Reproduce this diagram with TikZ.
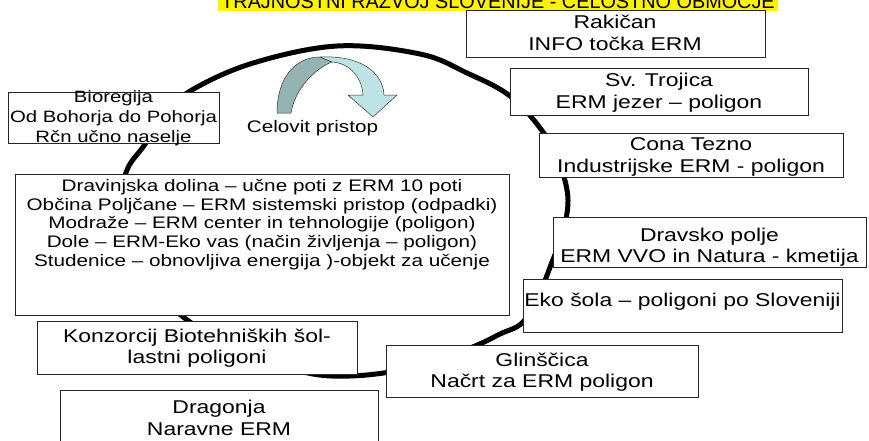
\documentclass[tikz,border=0pt]{standalone}
\usepackage{fontspec}
\setmainfont[FakeStretch=1.24]{Liberation Sans}
\newcommand\fsBox{\fontsize{18.5}{21.5}\selectfont}
\newcommand\fsBig{\fontsize{16.7}{18.7}\selectfont}
\newcommand\fsBio{\fontsize{16.4}{20}\selectfont}
\newcommand\fsTitle{\fontsize{20}{22}\selectfont}
\definecolor{armgray}{HTML}{95B3B3}
\definecolor{armcyan}{HTML}{BDE3E5}
\begin{document}
\begin{tikzpicture}[x=1pt,y=-1pt,
  box/.style={draw=black!85, line width=0.8pt, fill=white, inner sep=0pt},
  txt/.style={align=center, inner sep=0pt, font=\fsBox},
  ring/.style={line width=5pt, black}]
\useasboundingbox (0,0) rectangle (869,440);
% title band (cut off at top)
\node[fill=yellow, inner sep=0pt, minimum width=560pt, minimum height=24pt] (tband) at (498,-1) {};
\node[inner sep=0pt, anchor=base, font=\fsTitle] (title) at (498,8) {\scalebox{0.8}[1]{TRAJNOSTNI RAZVOJ SLOVENIJE - CELOSTNO OBMOČJE}};
% big ring
\draw[ring] plot[smooth cycle, tension=0.6] coordinates {
 (337,46) (420,54) (467,73) (510,96) (543,132) (560,165) (568,200) (562,235)
 (552,262) (540,292) (523,322) (500,334) (475,346) (430,363) (390,372) (350,376)
 (313,374) (270,362) (230,345) (190,322) (160,295) (128,250) (120,205) (127,170)
 (143,147) (165,117) (187,93) (250,64)};
% curved arrow
\filldraw[fill=armgray, draw=black!80, line width=0.5pt]
  (277,113) .. controls (277,78) and (295,57) .. (320,57) -- (332,62)
  .. controls (316,68) and (295,88) .. (291,113) -- cycle;
\filldraw[fill=armcyan, draw=black!80, line width=0.5pt]
  (320,57) .. controls (360,55) and (383,72) .. (384,95) -- (397,95) -- (373,117)
  -- (348,95) -- (363,95) .. controls (362,78) and (350,63) .. (332,62) -- cycle;
\node[txt, font=\fsBig] (celovit) at (312.5,128) {Celovit pristop};
% boxes
\node[box, minimum width=299pt, minimum height=47pt] (rak) at (615.5,33.5) {};
\node[txt] (rakT) at (615,33) {Rakičan\\INFO točka ERM};
\node[box, minimum width=298pt, minimum height=47pt] (trojica) at (659,91.5) {};
\node[txt] (trojicaT) at (659,92.5) {Sv. Trojica\\ERM jezer – poligon};
\node[box, minimum width=304pt, minimum height=44pt] (tezno) at (691,155) {};
\node[txt] (teznoT) at (691,157) {Cona Tezno\\Industrijske ERM - poligon};
\node[box, minimum width=313pt, minimum height=50pt] (dravsko) at (709.5,242) {};
\node[txt] (dravskoT) at (709.5,247) {Dravsko polje\\ERM VVO in Natura - kmetija};
\node[box, minimum width=319pt, minimum height=53pt] (eko) at (682.5,305.5) {};
\node[txt] (ekoT) at (682.5,302) {Eko šola – poligoni po Sloveniji};
\node[box, minimum width=312pt, minimum height=52pt] (glin) at (542,371) {};
\node[txt] (glinT) at (542,372) {Glinščica\\Načrt za ERM poligon};
\node[box, minimum width=320pt, minimum height=53pt] (konz) at (197,347.5) {};
\node[txt] (konzT) at (197,348) {Konzorcij Biotehniških šol-\\lastni poligoni};
\node[box, minimum width=318pt, minimum height=60pt] (drag) at (219,420) {};
\node[txt] (dragT) at (219,418) {Dragonja\\Naravne ERM};
\node[box, minimum width=494pt, minimum height=141pt] (big) at (262,244.5) {};
\node[txt, font=\fsBig] (bigT) at (262,224.5) {Dravinjska dolina – učne poti z ERM 10 poti\\
Občina Poljčane – ERM sistemski pristop (odpadki)\\
Modraže – ERM center in tehnologije (poligon)\\
Dole – ERM-Eko vas (način življenja – poligon)\\
Studenice – obnovljiva energija )-objekt za učenje};
\node[box, minimum width=211pt, minimum height=51pt] (bio) at (113.5,117.5) {};
\node[txt, font=\fsBio] (bioT) at (113.5,118) {Bioregija\\Od Bohorja do Pohorja\\Rčn učno naselje};
\end{tikzpicture}
\end{document}
